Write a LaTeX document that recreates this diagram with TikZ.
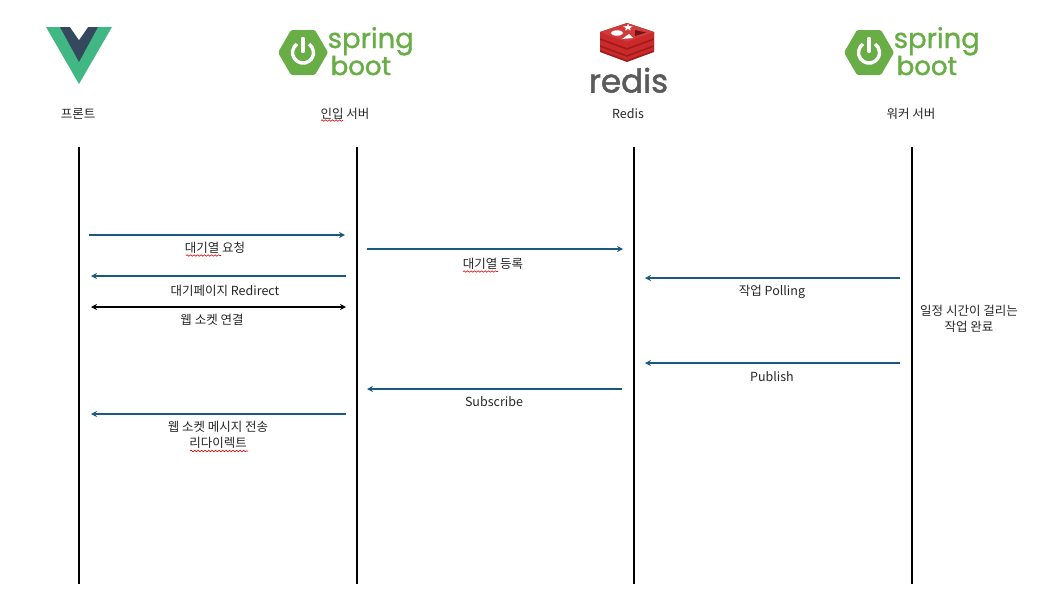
\documentclass[tikz,border=0pt]{standalone}
\usepackage{fontspec}
\setmainfont{Noto Sans CJK KR}
\newfontfamily\logofont[FakeBold=1.2]{Poppins}
\newfontfamily\bootfont[FakeBold=1.8]{Poppins}
\newfontfamily\redisfont[FakeBold=1.6]{Poppins}
\usetikzlibrary{arrows.meta,decorations.pathmorphing}
\definecolor{arrowblue}{HTML}{1B5A7D}
\definecolor{springgreen}{HTML}{68AD45}
\definecolor{vuegreen}{HTML}{41B883}
\definecolor{vuedark}{HTML}{35495E}
\definecolor{redisred}{HTML}{CC2A2A}
\definecolor{redisdark}{HTML}{9E1C1C}
\definecolor{redisgray}{HTML}{5A5A5C}
\tikzset{
  x=1pt,y=-1pt,
  lifeline/.style={line width=1.6pt,black},
  msg/.style={line width=1.4pt,arrowblue,-{Stealth[length=6pt,width=6pt]}},
  both/.style={line width=1.4pt,black,{Stealth[length=6pt,width=6pt]}-{Stealth[length=6pt,width=6pt]}},
  lbl/.style={font=\fontsize{12.5}{16}\selectfont,text=black!85,align=center,inner sep=0pt},
  wavy/.style={red!85!black,line width=0.6pt,decorate,decoration={snake,amplitude=0.7pt,segment length=3.5pt}},
  logotext/.style={inner sep=0pt,text=springgreen},
  pics/springlogo/.style={code={
    \fill[springgreen,rounded corners=1.5pt] (-25,0) -- (-12,-22.5) -- (12,-22.5) -- (25,0) -- (12,22.5) -- (-12,22.5) -- cycle;
    \draw[white,line width=3.4pt] (-6,-8.5) arc[start angle=235,end angle=-55,radius=10.5];
    \draw[white,line width=3.4pt,line cap=round] (0,-14) -- (0,-1);
    \node[logotext,anchor=base west,font=\logofont] (-spring) at (24.5,-4.5) {\fontsize{27.5}{27.5}\selectfont spring};
    \node[logotext,anchor=base west,font=\bootfont] (-boot) at (27.5,22.5) {\fontsize{26}{26}\selectfont boot};
  }},
}
\begin{document}
\begin{tikzpicture}
\useasboundingbox (0,0) rectangle (1059,606);
% Vue logo
\fill[vuegreen] (46,27) -- (112,27) -- (79,84) -- cycle;
\fill[vuedark] (60,27) -- (98,27) -- (79,62) -- cycle;
\fill[white] (70,27) -- (88,27) -- (79,40) -- cycle;
% Spring logos
\pic (sa) at (303,52.5) {springlogo};
\pic (sb) at (869,52.5) {springlogo};
% Redis logo
\fill[redisdark] (600,32) -- (627,23) -- (654,32) -- (654,52) -- (627,62) -- (600,52) -- cycle;
\fill[redisred] (600,47) -- (627,57) -- (654,47) -- (654,50) -- (627,60) -- (600,50) -- cycle;
\fill[redisred] (600,40) -- (627,50) -- (654,40) -- (654,45) -- (627,55) -- (600,45) -- cycle;
\fill[redisred] (600,32) -- (627,42) -- (654,32) -- (654,38) -- (627,48) -- (600,38) -- cycle;
\fill[redisred!92!white] (600,32) -- (627,23) -- (654,32) -- (627,42) -- cycle;
\fill[white] (617,33) ellipse[x radius=6,y radius=2.7];
\fill[white] (628,23.5) -- (629,26) -- (632.5,26.5) -- (630,28) -- (630.5,30.5) -- (628,29) -- (625,30.5) -- (626,28) -- (623,26.5) -- (627,26) -- cycle;
\fill[white] (622,39) -- (633,38) -- (629,34) -- cycle;
\fill[redisdark!70!black] (635,30) -- (646,32.5) -- (635,36) -- cycle;
\node[anchor=base,inner sep=0pt,text=redisgray,font=\redisfont\fontsize{32.5}{32.5}\selectfont] (redisword) at (628.5,92.5) {redis};
% Titles
\node[lbl] (t1) at (78,113.5) {프론트};
\node[lbl] (t2) at (345,113.5) {인입 서버};
\node[lbl] (t3) at (628,113.5) {Redis};
\node[lbl] (t4) at (911,113.5) {워커 서버};
\draw[wavy] (321,120.5) -- (343,120.5);
% Lifelines
\coordinate (a1) at (79,147); \coordinate (a2) at (79,584);
\coordinate (b1) at (357,147); \coordinate (b2) at (357,584);
\coordinate (c1) at (634,147); \coordinate (c2) at (634,584);
\coordinate (d1) at (912,147); \coordinate (d2) at (912,584);
\draw[lifeline] (a1) -- (a2);
\draw[lifeline] (b1) -- (b2);
\draw[lifeline] (c1) -- (c2);
\draw[lifeline] (d1) -- (d2);
% Messages
\coordinate (m1s) at (89,235); \coordinate (m1e) at (345,235);
\coordinate (m2s) at (367,249); \coordinate (m2e) at (623,249);
\coordinate (m3s) at (346,276); \coordinate (m3e) at (91,276);
\coordinate (m4s) at (900,278); \coordinate (m4e) at (645,278);
\coordinate (m5s) at (91,307); \coordinate (m5e) at (346,307);
\coordinate (m6s) at (900,363); \coordinate (m6e) at (645,363);
\coordinate (m7s) at (622,389); \coordinate (m7e) at (367,389);
\coordinate (m8s) at (346,414); \coordinate (m8e) at (91,414);
\draw[msg] (m1s) -- (m1e);
\draw[msg] (m2s) -- (m2e);
\draw[msg] (m3s) -- (m3e);
\draw[msg] (m4s) -- (m4e);
\draw[both] (m5s) -- (m5e);
\draw[msg] (m6s) -- (m6e);
\draw[msg] (m7s) -- (m7e);
\draw[msg] (m8s) -- (m8e);
% Labels
\node[lbl] (l1) at (215,247.5) {대기열 요청};
\draw[wavy] (186,255.5) -- (221,255.5);
\node[lbl] (l2) at (493,263.5) {대기열 등록};
\draw[wavy] (463,271.5) -- (498,271.5);
\node[lbl] (l3) at (225,290.5) {대기페이지 Redirect};
\node[lbl] (l4) at (772,291.5) {작업 Polling};
\node[lbl] (l5) at (212,320) {웹 소켓 연결};
\node[lbl] (l6) at (969,319) {일정 시간이 걸리는\\작업 완료};
\node[lbl] (l7) at (772,376.5) {Publish};
\node[lbl] (l8) at (494,401.5) {Subscribe};
\node[lbl] (l9) at (218,435) {웹 소켓 메시지 전송\\리다이렉트};
\draw[wavy] (190,451) -- (248,451);
\end{tikzpicture}
\end{document}
